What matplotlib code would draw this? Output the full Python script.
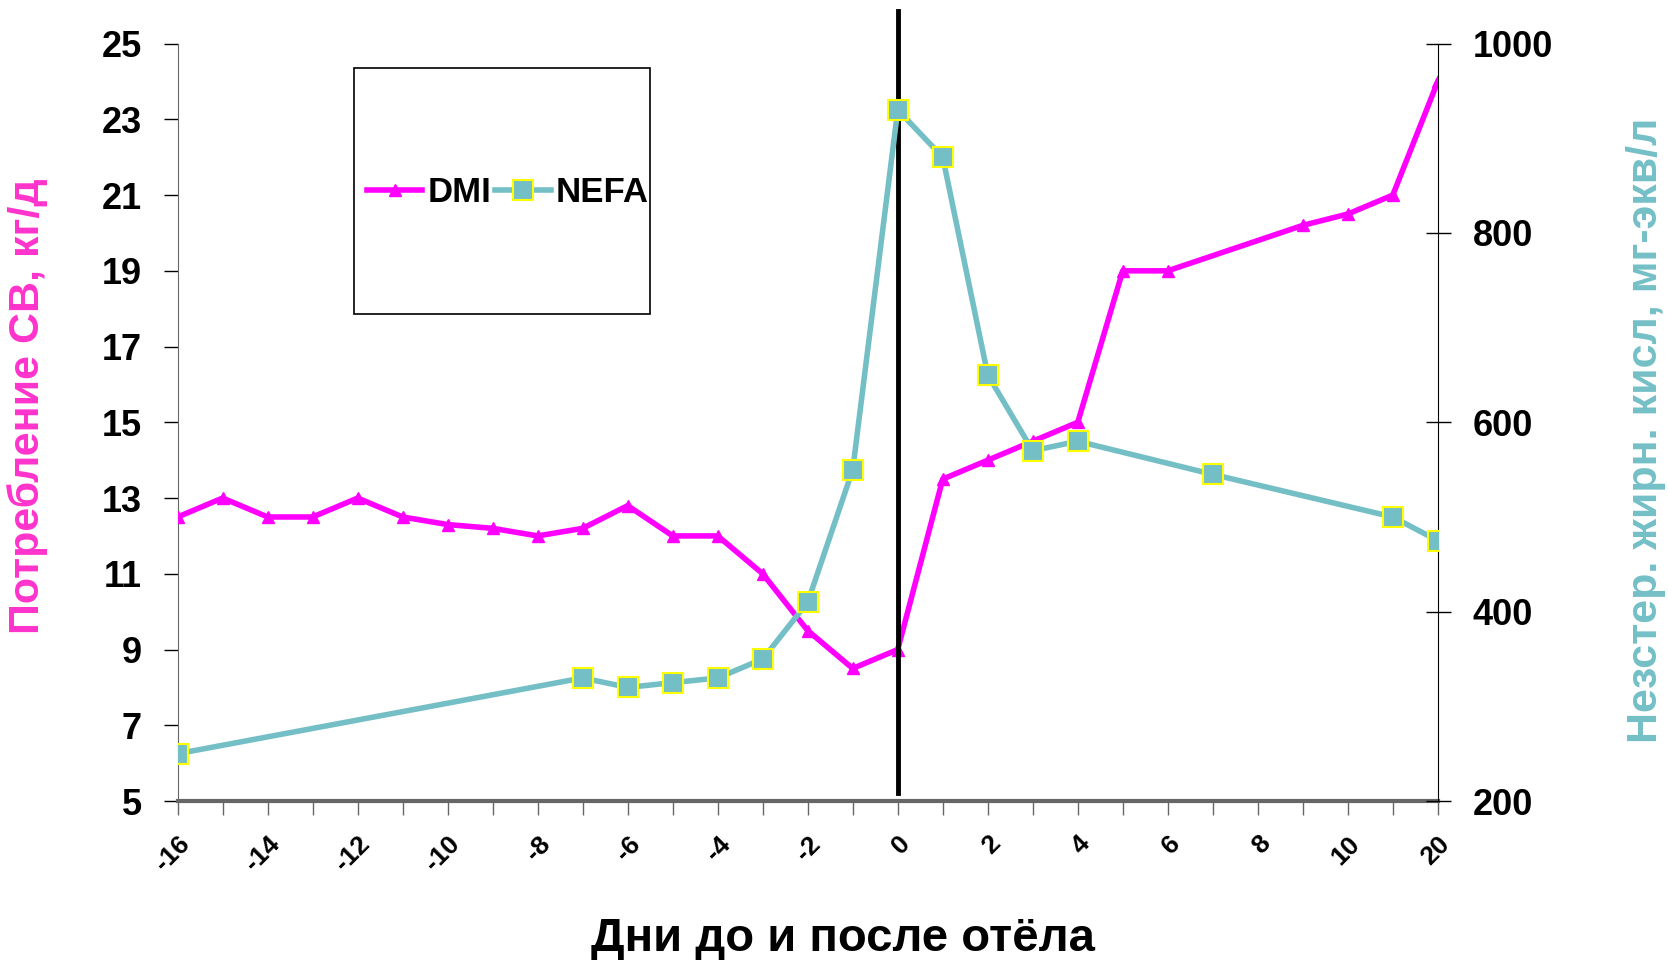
import numpy as np
import matplotlib.pyplot as plt
from matplotlib.patches import Rectangle

plt.rcParams['font.family'] = ['Liberation Sans', 'DejaVu Sans']
plt.rcParams['font.weight'] = 'bold'

days = [-16, -15, -14, -13, -12, -11, -10, -9, -8, -7, -6, -5, -4, -3, -2, -1,
        0, 1, 2, 3, 4, 5, 6, 7, 8, 9, 10, 11, 20]

dmi_days = [-16, -15, -14, -13, -12, -11, -10, -9, -8, -7, -6, -5, -4, -3, -2, -1,
            0, 1, 2, 3, 4, 5, 6, 9, 10, 11, 20]
dmi = [12.5, 13, 12.5, 12.5, 13, 12.5, 12.3, 12.2, 12, 12.2, 12.8, 12, 12, 11, 9.5, 8.5,
       9, 13.5, 14, 14.5, 15, 19, 19, 20.2, 20.5, 21, 24]

nefa_days = [-16, -7, -6, -5, -4, -3, -2, -1, 0, 1, 2, 3, 4, 7, 11, 20]
nefa = [250, 330, 320, 325, 330, 350, 410, 550, 930, 880, 650, 570, 580, 545, 500, 475]

pink = '#FF00FF'
teal = '#74BFC6'

pos = {d: i for i, d in enumerate(days)}
dmi_x = [pos[d] for d in dmi_days]
nefa_x = [pos[d] for d in nefa_days]

fig = plt.figure(figsize=(16.68, 9.6), dpi=100)
ax = fig.add_axes([0.1065, 0.1656, 0.7555, 0.789])
ax2 = ax.twinx()

l1, = ax.plot(dmi_x, dmi, color=pink, lw=4, marker='^', ms=9, zorder=3)
l2, = ax2.plot(nefa_x, nefa, color=teal, lw=4, marker='s', ms=14,
               markeredgecolor='yellow', markeredgewidth=1.5, zorder=3)

ax.set_xlim(0, len(days) - 1)
ax.set_ylim(5, 25)
ax2.set_ylim(200, 1000)
ax.set_yticks(np.arange(5, 26, 2))
ax2.set_yticks(np.arange(200, 1001, 200))

ax.set_xticks(range(len(days)))
xlabels = [str(d) if (i % 2 == 0) else '' for i, d in enumerate(days)]
ax.set_xticklabels(xlabels, rotation=45, ha='right', rotation_mode='anchor',
                   fontsize=19, fontweight='bold')
ax.tick_params(axis='x', direction='out', length=10, width=1, color='#666666', pad=12)
ax.tick_params(axis='y', direction='out', length=10, width=1, labelsize=26, pad=16)
ax2.tick_params(axis='y', direction='inout', length=18, width=1, labelsize=26, pad=16)

for t in ax.get_yticklabels() + ax2.get_yticklabels():
    t.set_fontweight('bold')

ax.spines['top'].set_visible(False)
ax2.spines['top'].set_visible(False)
ax.spines['left'].set_color('#666666')
ax2.spines['left'].set_visible(False)
ax.spines['bottom'].set_color('#666666')
ax.spines['bottom'].set_linewidth(3)
ax2.spines['bottom'].set_visible(False)
ax.spines['right'].set_visible(False)
ax2.spines['right'].set_color('black')

# calving day line
ax.plot([pos[0], pos[0]], [5.2, 25.85], color='black', lw=3.5, clip_on=False, zorder=4)

ax.set_ylabel('Потребление СВ, кг/д', color='#FF33CC', fontsize=31, fontweight='bold')
ax.yaxis.set_label_coords(-0.103, 0.521)
ax2.set_ylabel('Незстер. жирн. кисл, мг-экв/л', color=teal, fontsize=31, fontweight='bold',
               rotation=90)
ax2.yaxis.set_label_coords(1.149, 0.489)
ax.set_xlabel('Дни до и после отёла', fontsize=34, fontweight='bold')
ax.xaxis.set_label_coords(0.528, -0.153)

# legend box
box = Rectangle((0.140, 0.643), 0.235, 0.325, transform=ax.transAxes, fill=False,
                edgecolor='black', lw=1.2, zorder=5)
ax.add_patch(box)
ax2.legend([l1, l2], ['DMI', 'NEFA'], ncol=2, loc='center', bbox_to_anchor=(0.262, 0.803),
           frameon=False, handlelength=1.6, handletextpad=0.15, columnspacing=0.1,
           prop={'weight': 'bold', 'size': 25})

fig.savefig('out.png', dpi=100)
